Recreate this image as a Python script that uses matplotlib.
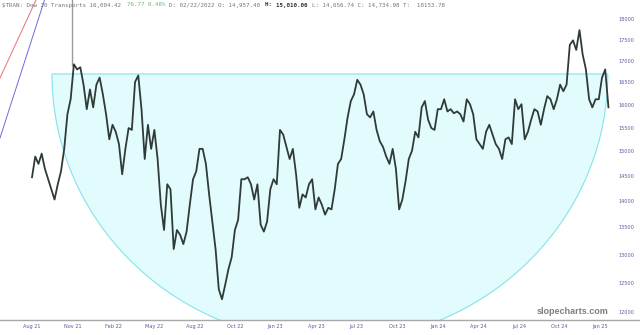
import numpy as np
import matplotlib
matplotlib.use('Agg')
import matplotlib.pyplot as plt
from matplotlib.patches import Polygon
from matplotlib.ticker import NullLocator
import matplotlib.transforms as mtransforms

# weekly closes of $TRAN, Aug 2021 .. Feb 2025
close = [14480, 14900, 14750, 14960, 14650, 14440, 14240, 14040, 14340, 14600,
         15060, 15800, 16130, 16930, 16810, 16860, 16460, 15910, 16350, 15950,
         16460, 16620, 16240, 15800, 15260, 15570, 15420, 15160, 14540, 15060,
         15500, 15460, 16520, 16670, 15910, 14850, 15570, 15060, 15460, 14850,
         13940, 13460, 14340, 14240, 13110, 13460, 13370, 13200, 13430, 13940,
         14440, 14600, 15060, 15060, 14750, 14140, 13620, 13110, 12400, 12230,
         12480, 12750, 12960, 13460, 13650, 14440, 14440, 14480, 14340, 14040,
         14340, 13560, 13430, 13620, 14240, 14440, 14340, 15460, 15360, 15100,
         14850, 15060, 14540, 13880, 14140, 14080, 14340, 14440, 13850, 14080,
         13940, 13750, 13880, 13850, 14240, 14750, 14850, 15260, 15730, 16090,
         16240, 16570, 16460, 16240, 15800, 15730, 15860, 15460, 15220, 15100,
         14900, 14750, 15060, 14650, 13850, 14040, 14400, 14850, 15020, 15420,
         15300, 15950, 16090, 15680, 15500, 15460, 15910, 15910, 16130, 15860,
         15910, 15820, 15860, 15800, 15640, 16130, 16020, 15800, 15260, 15160,
         15060, 15420, 15570, 15360, 15160, 15060, 14850, 15260, 15300, 15160,
         16130, 15910, 16020, 15260, 15420, 15680, 15910, 15860, 15570, 15910,
         16200, 16130, 15910, 16130, 16460, 16310, 16460, 17390, 17500, 17270,
         17750, 17160, 16810, 16130, 15950, 16130, 16130, 16620, 16810, 15950]

# bad print in Nov 21 (grey wick up to the top of the chart)
spike_week = 12.4
spike_low, spike_high = 16900, 18520

tick_labels = ['Aug 21', 'Nov 21', 'Feb 22', 'May 22', 'Aug 22', 'Oct 22', 'Jan 23',
               'Apr 23', 'Jul 23', 'Oct 23', 'Jan 24', 'Apr 24', 'Jul 24', 'Oct 24', 'Jan 25']
price_levels = [12000, 12500, 13000, 13500, 14000, 14500, 15000, 15500,
                16000, 16500, 17000, 17500, 18000]

# the drawn "bowl"
bowl_top = 16704
bowl_center = 92.5
bowl_halfwidth = 86.3
bowl_depth = 0.371   # in log units

fig = plt.figure(figsize=(6.4, 3.35), dpi=100)
ax = fig.add_axes([0, 15 / 335, 1, 320 / 335])

x = np.arange(len(close))
ax.set_yscale('log')
ax.set_xlim(-9.94, 188.8)
ax.set_ylim(11884, 18505)

# bowl
t = np.linspace(np.pi, 2 * np.pi, 200)
bx = bowl_center + bowl_halfwidth * np.cos(t)
by = np.exp(np.log(bowl_top) + bowl_depth * np.sin(t))
ax.add_patch(Polygon(np.column_stack([bx, by]), closed=True,
                     facecolor='#e2fbfc', edgecolor='#86e3e8', lw=0.8, zorder=1))

ax.vlines(spike_week, spike_low, spike_high, color='#9a9a9a', lw=1.0, zorder=2)
ax.plot(x, close, color='#2f3b37', lw=1.3, zorder=3)

# trend lines top left
ax.plot([0, 36 / 640], [1 - 78 / 320, 1], color='#e87070', lw=0.7, transform=ax.transAxes)
ax.plot([0, 44.5 / 640], [1 - 138 / 320, 1], color='#6b6be0', lw=0.7, transform=ax.transAxes)

# axes styling
for s in ['top', 'left', 'right']:
    ax.spines[s].set_visible(False)
ax.spines['bottom'].set_color('#a8a8a8')
ax.spines['bottom'].set_linewidth(1.0)
ax.yaxis.set_minor_locator(NullLocator())
ax.set_yticks([])
ax.set_xticks(np.arange(len(tick_labels)) * 12.6)
ax.set_xticklabels(tick_labels, fontsize=3.6, color='#5a5a9a')
ax.tick_params(axis='x', length=0, pad=3)

trans = mtransforms.blended_transform_factory(ax.transAxes, ax.transData)
for v in price_levels:
    ax.text(0.991, v, str(v), transform=trans, ha='right', va='center',
            fontsize=3.6, color='#5a5a9a')

# header
parts = [('$TRAN: Dow 20 Transports 16,004.42 ', '#777777', 'normal'),
         ('76.77 0.48% ', '#6cb86c', 'normal'),
         ('D: 02/22/2022 O: 14,957.40 ', '#777777', 'normal'),
         ('H: ', '#333333', 'bold'),
         ('15,010.06 ', '#333333', 'bold'),
         ('L: 14,656.74 C: 14,734.98 T:  18153.78', '#777777', 'normal')]
cw = 3.56 / 640
pos = 2 / 640
for txt, col, wt in parts:
    fig.text(pos, 1 - 5 / 335, txt, fontsize=4.25, family='DejaVu Sans Mono',
             color=col, weight=wt, va='center', ha='left')
    pos += len(txt) * cw

fig.text(573 / 640, 1 - 312 / 335, 'slopecharts.com', fontsize=6.5, weight='bold',
         family='Liberation Sans', color='#7f7f7f', ha='center', va='center')

fig.savefig('out.png', dpi=100)
